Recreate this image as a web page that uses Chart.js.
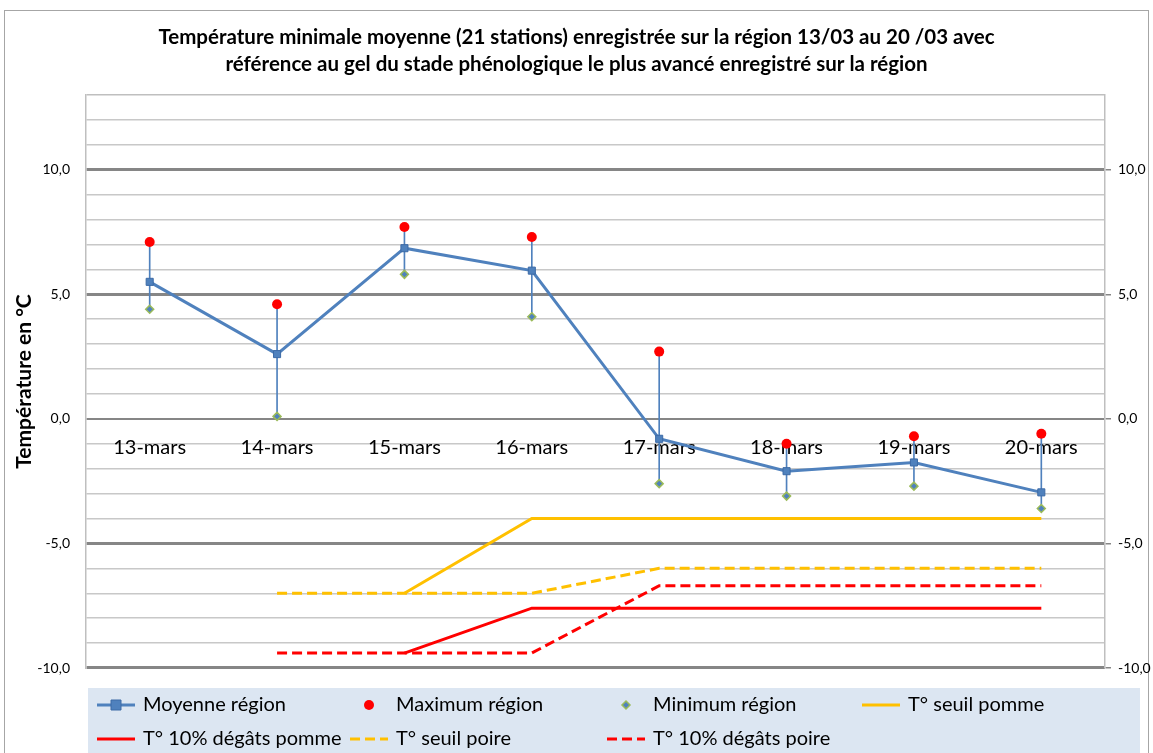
<!DOCTYPE html>
<html>
<head>
<meta charset="utf-8">
<script src="https://cdn.jsdelivr.net/npm/chart.js@4.4.0/dist/chart.umd.min.js"></script>
<style>
  html, body { margin: 0; padding: 0; background: #fff; }
</style>
</head>
<body>
<canvas id="chartTemp" width="1153" height="753"></canvas>
<script>
// Données
const jours = ["13-mars", "14-mars", "15-mars", "16-mars", "17-mars", "18-mars", "19-mars", "20-mars"];
const moyenne = [5.5, 2.6, 6.85, 5.95, -0.8, -2.1, -1.75, -2.95];
const maximum = [7.1, 4.6, 7.7, 7.3, 2.7, -1.0, -0.7, -0.6];
const minimum = [4.4, 0.1, 5.8, 4.1, -2.6, -3.1, -2.7, -3.6];
const seuilPomme = [null, null, -7, -4, -4, -4, -4, -4];
const degatsPomme = [null, null, -9.4, -7.6, -7.6, -7.6, -7.6, -7.6];
const seuilPoire = [null, -7, -7, -7, -6, -6, -6, -6];
const degatsPoire = [null, -9.4, -9.4, -9.4, -6.7, -6.7, -6.7, -6.7];
const yMin = -10;
const yMax = 13;

const BLEU = "#4F81BD";
const ORANGE = "#FFC000";
const ROUGE = "#FF0000";
const POLICE = "Lato";

const etiquette = v => (v % 5 === 0 ? v.toFixed(1).replace(".", ",") : "");

// Cadre extérieur + fond blanc
const cadre = {
  id: "cadre",
  beforeDraw(chart) {
    const ctx = chart.ctx;
    ctx.save();
    ctx.fillStyle = "#fff";
    ctx.fillRect(0, 0, chart.width, chart.height);
    ctx.strokeStyle = "#A6A6A6";
    ctx.lineWidth = 1;
    ctx.strokeRect(4.5, 10.5, 1144, 760);
    ctx.restore();
  }
};

function marqueur(ctx, d, x, y) {
  const r = d.pointRadius;
  ctx.fillStyle = d.pointBackgroundColor;
  ctx.strokeStyle = d.pointBorderColor;
  ctx.lineWidth = d.pointBorderWidth;
  ctx.setLineDash([]);
  ctx.beginPath();
  if (d.pointStyle === "rect") {
    ctx.rect(x - r, y - r, 2 * r, 2 * r);
  } else if (d.pointStyle === "rectRot") {
    ctx.moveTo(x, y - r); ctx.lineTo(x + r, y); ctx.lineTo(x, y + r); ctx.lineTo(x - r, y); ctx.closePath();
  } else {
    ctx.arc(x, y, r, 0, Math.PI * 2);
  }
  ctx.fill();
  if (d.pointBorderWidth) ctx.stroke();
}

// Légende en grille, façon Excel
const legendeGrille = {
  id: "legendeGrille",
  afterDraw(chart) {
    const ctx = chart.ctx;
    ctx.save();
    ctx.fillStyle = "#DCE6F2";
    ctx.fillRect(88, 688, 1052, 70);
    const cols = [97, 350, 607, 862];
    const rows = [705, 739];
    const items = chart.data.datasets.filter(d => d.label);
    items.forEach((d, i) => {
      const x = cols[i % 4];
      const y = rows[Math.floor(i / 4)];
      if (d.showLine !== false) {
        ctx.strokeStyle = d.borderColor;
        ctx.lineWidth = d.borderWidth;
        ctx.setLineDash(d.borderDash || []);
        ctx.beginPath();
        ctx.moveTo(x, y);
        ctx.lineTo(x + 38, y);
        ctx.stroke();
      }
      if (d.pointRadius > 0) marqueur(ctx, d, x + 19, y);
      ctx.fillStyle = "#000";
      ctx.font = "20px " + POLICE;
      ctx.textBaseline = "middle";
      ctx.textAlign = "left";
      ctx.fillText(d.label, x + 46, y);
    });
    ctx.restore();
  }
};

new Chart(document.getElementById("chartTemp"), {
  type: "line",
  data: {
    labels: jours,
    datasets: [
      {
        label: "Moyenne région",
        data: moyenne,
        borderColor: BLEU,
        borderWidth: 3,
        pointStyle: "rect",
        pointRadius: 5,
        pointBackgroundColor: BLEU,
        pointBorderColor: "#3C6AA6",
        pointBorderWidth: 1,
        tension: 0,
        order: 2
      },
      {
        label: "Maximum région",
        data: maximum,
        showLine: false,
        pointStyle: "circle",
        pointRadius: 5,
        pointBackgroundColor: ROUGE,
        pointBorderColor: ROUGE,
        pointBorderWidth: 0,
        order: 0
      },
      {
        label: "Minimum région",
        data: minimum,
        showLine: false,
        pointStyle: "rectRot",
        pointRadius: 4,
        pointBackgroundColor: BLEU,
        pointBorderColor: "#9BBB59",
        pointBorderWidth: 1.5,
        order: 1
      },
      {
        label: "T° seuil pomme",
        data: seuilPomme,
        borderColor: ORANGE,
        borderWidth: 3,
        pointRadius: 0,
        order: 6
      },
      {
        label: "T° 10% dégâts pomme",
        data: degatsPomme,
        borderColor: ROUGE,
        borderWidth: 3,
        pointRadius: 0,
        order: 5
      },
      {
        label: "T° seuil poire",
        data: seuilPoire,
        borderColor: ORANGE,
        borderWidth: 3,
        borderDash: [10, 5],
        pointRadius: 0,
        order: 4
      },
      {
        label: "T° 10% dégâts poire",
        data: degatsPoire,
        borderColor: ROUGE,
        borderWidth: 3,
        borderDash: [10, 5],
        pointRadius: 0,
        order: 3
      },
      {
        // lignes haut-bas (min -> max)
        type: "bar",
        data: minimum.map((m, i) => [m, maximum[i]]),
        backgroundColor: BLEU,
        barThickness: 1,
        order: 10
      }
    ]
  },
  options: {
    responsive: false,
    animation: false,
    layout: { padding: { left: 0, right: 0, top: 0, bottom: 85 } },
    plugins: {
      legend: { display: false },
      tooltip: { enabled: false },
      title: {
        display: true,
        text: [
          "Température minimale moyenne (21 stations) enregistrée sur la région 13/03 au 20 /03 avec",
          "référence au gel du stade phénologique le plus avancé enregistré sur la région"
        ],
        color: "#000",
        font: { family: POLICE, size: 20.5, weight: "bold", lineHeight: 1.317 },
        padding: { top: 24, bottom: 17 }
      }
    },
    scales: {
      x: {
        type: "category",
        offset: true,
        position: { y: 0 },
        grid: { display: false, drawTicks: false, offset: true },
        border: { display: false },
        ticks: {
          color: "#000",
          font: { family: POLICE, size: 20 },
          padding: 17,
          maxRotation: 0,
          autoSkip: false
        }
      },
      y: {
        position: "left",
        min: yMin,
        max: yMax,
        afterFit: s => { s.width = 86; },
        ticks: {
          stepSize: 1,
          callback: etiquette,
          color: "#000",
          font: { family: POLICE, size: 14 },
          padding: 16
        },
        grid: {
          drawTicks: false,
          color: c => (c.tick.value === yMax ? "#BFBFBF" : c.tick.value % 5 === 0 ? "#868686" : "#C8C8C8"),
          lineWidth: c => (c.tick.value === 0 ? 2 : c.tick.value % 5 === 0 && c.tick.value !== yMax ? 3 : 1.5)
        },
        border: { display: true, color: "#BFBFBF", width: 1.5 },
        title: {
          display: true,
          text: "Température en °C",
          color: "#000",
          font: { family: POLICE, size: 21, weight: "bold" },
          padding: { top: 12, bottom: 0 }
        }
      },
      y2: {
        position: "right",
        min: yMin,
        max: yMax,
        afterFit: s => { s.width = 48; },
        ticks: {
          stepSize: 1,
          callback: etiquette,
          color: "#000",
          font: { family: POLICE, size: 14 },
          padding: 7
        },
        grid: {
          drawOnChartArea: false,
          drawTicks: true,
          tickLength: 6,
          tickColor: c => (c.tick.value % 5 === 0 ? "#868686" : "rgba(0,0,0,0)"),
          lineWidth: 1.5
        },
        border: { display: true, color: "#BFBFBF", width: 1.5 }
      }
    }
  },
  plugins: [cadre, legendeGrille]
});
</script>
</body>
</html>
